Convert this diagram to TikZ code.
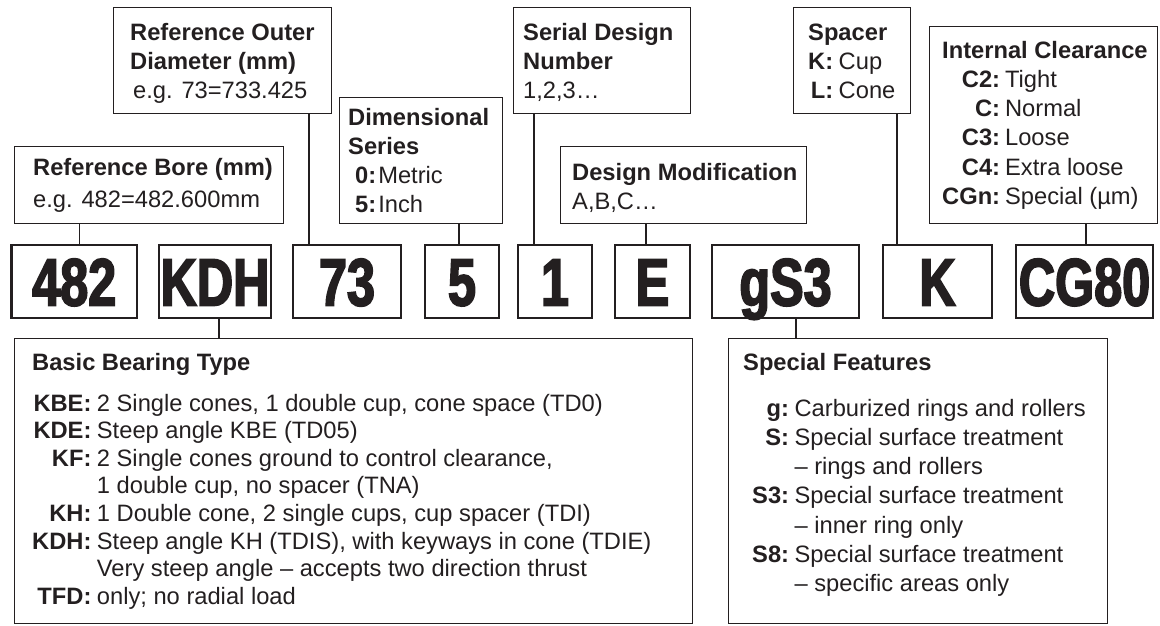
\documentclass[tikz,border=0pt]{standalone}
\usepackage{fontspec}
\setmainfont{Liberation Sans}
\newfontfamily\codefont[FakeStretch=0.75,FakeBold=2.6]{Liberation Sans}
\definecolor{ink}{RGB}{35,31,32}
\newcommand\lbl{\fontsize{23.7}{29.3}\selectfont}
\newcommand\lblb{\fontsize{23.7}{27.6}\selectfont}
\tikzset{
  lbox/.style={draw=ink, line width=1.3pt, inner sep=0pt, anchor=north west},
  cbox/.style={draw=ink, line width=2.4pt, inner sep=0pt, anchor=center,
    minimum height=73pt, text height=48pt, text depth=0pt,
    font=\codefont\bfseries\fontsize{67}{67}\selectfont},
  txt/.style={anchor=base west, inner sep=0pt, font=\lbl},
  txtb/.style={anchor=base west, inner sep=0pt, font=\lblb},
  conn/.style={draw=ink, line width=1.3pt}
}
\begin{document}
\begin{tikzpicture}[x=1pt, y=-1pt, color=ink]
\useasboundingbox (0,0) rectangle (1160,625);

% ---- code boxes ----
\node[cbox, minimum width=125.5pt] (c482) at (74.25,281.5) {482};
\node[cbox, minimum width=112pt] (ckdh) at (215,281.5) {KDH};
\node[cbox, minimum width=108pt] (c73) at (347,281.5) {73};
\node[cbox, minimum width=74pt] (c5) at (462,281.5) {5};
\node[cbox, minimum width=74pt] (c1) at (555,281.5) {1};
\node[cbox, minimum width=75pt] (cE) at (652.5,281.5) {E};
\node[cbox, minimum width=147pt] (cgs3) at (785.5,281.5) {gS3};
\node[cbox, minimum width=109pt] (cK) at (937.5,281.5) {K};
\node[cbox, minimum width=137pt] (ccg) at (1084.5,281.5) {CG80};

% ---- label boxes ----
\node[lbox, minimum width=218pt, minimum height=106pt] (od) at (113,7) {};
\node[lbox, minimum width=269pt, minimum height=77pt] (bore) at (14,146) {};
\node[lbox, minimum width=163pt, minimum height=126pt] (dim) at (339,97) {};
\node[lbox, minimum width=177pt, minimum height=106pt] (ser) at (513,7) {};
\node[lbox, minimum width=246pt, minimum height=77pt] (mod) at (560,146) {};
\node[lbox, minimum width=117pt, minimum height=106pt] (spc) at (793,7) {};
\node[lbox, minimum width=228pt, minimum height=197pt] (clr) at (929,26) {};
\node[lbox, minimum width=678pt, minimum height=285pt] (basic) at (14,338) {};
\node[lbox, minimum width=379pt, minimum height=285pt] (spec) at (728,338) {};

% ---- texts ----
\node[txt] (tod) at (130,40) {\begin{tabular}[t]{@{}l@{}}
\textbf{Reference Outer}\\
\textbf{Diameter (mm)}\\
\hspace*{3pt}e.g. 73=733.425
\end{tabular}};

\node[txt] (tbore) at (33,175) {\begin{tabular}[t]{@{}l@{}}
\textbf{Reference Bore (mm)}\\[2.7pt]
e.g. 482=482.600mm
\end{tabular}};

\node[txt] (tdim) at (348,125) {\begin{tabular}[t]{@{}l@{}}
\textbf{Dimensional}\\
\textbf{Series}\\
\hspace*{7pt}\textbf{0:}\hspace{2pt}Metric\\
\hspace*{7pt}\textbf{5:}\hspace{2pt}Inch
\end{tabular}};

\node[txt] (tser) at (523,40) {\begin{tabular}[t]{@{}l@{}}
\textbf{Serial Design}\\
\textbf{Number}\\
1,2,3…
\end{tabular}};

\node[txt] (tmod) at (572,180) {\begin{tabular}[t]{@{}l@{}}
\textbf{Design Modification}\\
A,B,C…
\end{tabular}};

\node[txt] (tspc) at (808,40) {\begin{tabular}[t]{@{}r@{\hspace{5.5pt}}l@{}}
\multicolumn{2}{@{}l@{}}{\textbf{Spacer}}\\
\textbf{K:} & Cup\\
\textbf{L:} & Cone
\end{tabular}};

\node[txt] (tclr) at (942,58) {\begin{tabular}[t]{@{}r@{\hspace{5pt}}l@{}}
\multicolumn{2}{@{}l@{}}{\textbf{Internal Clearance}}\\
\textbf{C2:} & Tight\\
\textbf{C:} & Normal\\
\textbf{C3:} & Loose\\
\textbf{C4:} & Extra loose\\
\textbf{CGn:} & Special (µm)
\end{tabular}};

\node[txtb] (tbasic) at (32,370) {\begin{tabular}[t]{@{}r@{\hspace{5.5pt}}l@{}}
\multicolumn{2}{@{}l@{}}{\textbf{Basic Bearing Type}}\\[13.4pt]
\textbf{KBE:} & 2 Single cones, 1 double cup, cone space (TD0)\\
\textbf{KDE:} & Steep angle KBE (TD05)\\
\textbf{KF:} & 2 Single cones ground to control clearance,\\
 & 1 double cup, no spacer (TNA)\\
\textbf{KH:} & 1 Double cone, 2 single cups, cup spacer (TDI)\\
\textbf{KDH:} & Steep angle KH (TDIS), with keyways in cone (TDIE)\\
 & Very steep angle – accepts two direction thrust\\
\textbf{TFD:} & only; no radial load
\end{tabular}};

\node[txt] (tspec) at (743,370) {\begin{tabular}[t]{@{\hspace{9pt}}r@{\hspace{5.5pt}}l@{}}
\multicolumn{2}{@{}l@{}}{\textbf{Special Features}}\\[16.7pt]
\textbf{g:} & Carburized rings and rollers\\
\textbf{S:} & Special surface treatment\\
 & – rings and rollers\\
\textbf{S3:} & Special surface treatment\\
 & – inner ring only\\
\textbf{S8:} & Special surface treatment\\
 & – specific areas only
\end{tabular}};

% ---- connectors ----
\draw[conn] ([xshift=5pt]c482.north |- bore.south) -- ([xshift=5pt]c482.north);
\draw[conn] ([xshift=-38pt]c73.north |- od.south) -- ([xshift=-38pt]c73.north);
\draw[conn] ([xshift=-3pt]c5.north |- dim.south) -- ([xshift=-3pt]c5.north);
\draw[conn] ([xshift=-21pt]c1.north |- ser.south) -- ([xshift=-21pt]c1.north);
\draw[conn] ([xshift=-6.5pt]cE.north |- mod.south) -- ([xshift=-6.5pt]cE.north);
\draw[conn] ([xshift=-40.5pt]cK.north |- spc.south) -- ([xshift=-40.5pt]cK.north);
\draw[conn] ([xshift=1.5pt]ccg.north |- clr.south) -- ([xshift=1.5pt]ccg.north);
\draw[conn] ([xshift=4pt]ckdh.south) -- ([xshift=4pt]ckdh.south |- basic.north);
\draw[conn] ([xshift=10.5pt]cgs3.south) -- ([xshift=10.5pt]cgs3.south |- spec.north);
\end{tikzpicture}
\end{document}
